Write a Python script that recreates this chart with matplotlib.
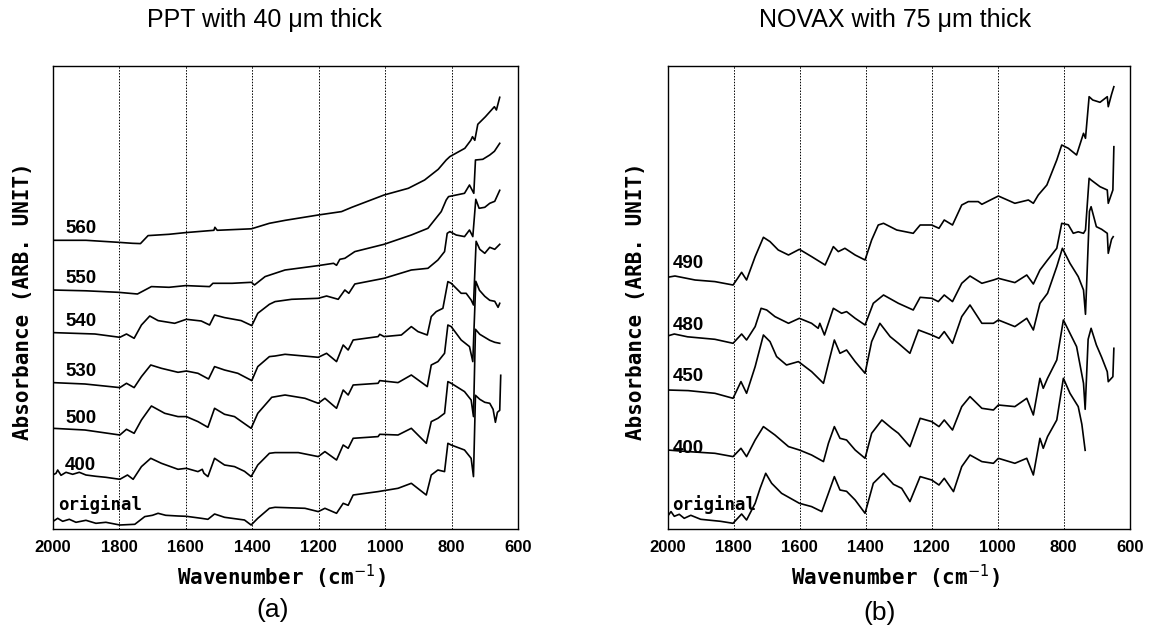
import matplotlib
matplotlib.use("Agg")
import matplotlib.pyplot as plt

# ---- panel (a): PPT 40 um, absorbance (arb. units) vs wavenumber ----
a_labels = ["560", "550", "540", "530", "500", "400", "original"]

a560_wn = [2000, 1900, 1803, 1760, 1736, 1713, 1650, 1600, 1515, 1512, 1505, 1402, 1348, 1300, 1201,
           1131, 1100, 1003, 930, 881, 840, 816, 805, 760, 742, 737, 730, 721, 698, 671, 665, 655]
a560_ab = [289, 289, 287, 286, 285.7, 293.7, 295, 296.7, 299, 302, 299, 300.5, 306, 309, 314.3,
           317.7, 322, 334.3, 341, 349.3, 360, 369.3, 372.7, 381, 389, 392.6, 389, 405, 412.6, 422.6, 419.3, 432]

a550_wn = [2000, 1900, 1803, 1745, 1703, 1650, 1600, 1528, 1518, 1460, 1402, 1393, 1361, 1301, 1201,
           1155, 1146, 1136, 1121, 1091, 1003, 921, 871, 831, 816, 809, 761, 746, 733, 728, 706, 685, 671, 655]
a550_ab = [239.3, 238.5, 237, 235.3, 242.7, 242, 243.7, 242.7, 246, 246, 247, 244.3, 252.7, 259.3, 263.7,
           266, 264, 270, 271, 277.7, 285, 294.3, 301, 317.7, 329.3, 332.7, 336, 344.3, 336, 369.3, 370, 374.3, 378, 386]

a540_wn = [2000, 1873, 1798, 1778, 1755, 1733, 1708, 1683, 1633, 1598, 1553, 1528, 1513, 1483, 1433,
           1401, 1383, 1348, 1331, 1281, 1201, 1176, 1141, 1121, 1109, 1091, 1003, 921, 871, 841,
           821, 813, 805, 786, 761, 746, 736, 727, 717, 700, 685, 670, 655]
a540_ab = [196.7, 195.3, 192, 195.3, 191, 204.3, 213.3, 208.7, 206, 210, 208.3, 204.3, 214.3, 211.7, 208.7,
           203.7, 216, 225, 227.7, 230, 231, 233.3, 230, 239.3, 236, 245.3, 251, 259.3, 261, 269.3,
           277.7, 296, 297.7, 294.3, 292.7, 299.3, 292.7, 330, 321, 322, 326, 328, 339]

a530_wn = [2000, 1903, 1798, 1778, 1755, 1733, 1705, 1673, 1623, 1598, 1563, 1531, 1513, 1483, 1443,
           1401, 1383, 1348, 1331, 1301, 1201, 1176, 1146, 1126, 1111, 1096, 1021, 1016, 1003, 951,
           921, 901, 873, 861, 846, 826, 811, 801, 771, 756, 741, 734, 726, 715, 700, 685, 670, 655]
a530_ab = [146.7, 145.3, 141.7, 146, 141.7, 152.7, 164.3, 161, 157, 158.3, 156, 150.3, 162.7, 159.3, 156,
           148.7, 162.7, 172.7, 173.3, 175, 172, 176, 167.7, 184.3, 179.3, 189.3, 192.7, 195, 192.7, 194.3,
           202.7, 197.7, 194.3, 212.7, 217.7, 221, 247.7, 246, 236, 236, 229.3, 224.3, 288, 280, 276, 282, 280, 285]

a500_wn = [2000, 1903, 1798, 1778, 1755, 1733, 1703, 1663, 1623, 1598, 1563, 1533, 1513, 1483, 1453,
           1433, 1403, 1383, 1348, 1341, 1301, 1241, 1201, 1181, 1146, 1126, 1111, 1096, 1021, 1016,
           961, 921, 873, 861, 841, 821, 811, 801, 771, 746, 736, 727, 716, 700, 685, 670, 660, 655]
a500_ab = [101, 99.3, 94.3, 100, 96, 109.3, 123.3, 116, 112.7, 112.7, 107.7, 102, 121, 115, 112.7,
           108, 101, 116, 129.3, 132, 134.3, 131, 126, 131, 121, 139.3, 134.3, 144.3, 146, 148.7,
           146.7, 154.3, 142.7, 164.3, 167.7, 176, 204.3, 202.7, 189.3, 182.7, 167.7, 248, 239, 233, 229, 228, 222, 226]

a400_wn = [2000, 1990, 1985, 1975, 1960, 1940, 1920, 1900, 1870, 1840, 1798, 1775, 1758, 1733, 1705,
           1673, 1623, 1598, 1563, 1550, 1545, 1533, 1513, 1483, 1453, 1423, 1403, 1383, 1348, 1331,
           1261, 1201, 1181, 1146, 1126, 1111, 1096, 1021, 1016, 961, 921, 876, 861, 841, 821,
           811, 801, 761, 741, 734, 728, 715, 700, 685, 670, 655]
a400_ab = [54.3, 56, 59.3, 54, 57, 55, 57, 54.3, 53, 52, 50, 54.3, 50, 62.7, 71,
           66, 60, 61, 57.7, 60, 56, 52.7, 71, 64.3, 62.7, 58, 52.7, 64.3, 76, 76.7,
           76.7, 72.7, 77.7, 69.3, 84.3, 81, 91, 92.7, 95, 94.3, 101, 86, 107.7, 111, 116,
           147.7, 146, 137.7, 129.3, 112.7, 200, 195, 192, 189, 187, 186]

a0_wn = [2000, 1985, 1970, 1950, 1930, 1900, 1870, 1840, 1798, 1753, 1723, 1700, 1683, 1660, 1623,
         1598, 1553, 1533, 1513, 1483, 1423, 1403, 1383, 1348, 1331, 1241, 1201, 1181, 1146, 1126,
         1111, 1096, 1021, 961, 921, 876, 861, 841, 821, 811, 801, 761, 741, 734, 728, 715,
         700, 685, 675, 668, 662, 655, 652]
a0_ab = [7.7, 11, 8, 10, 7, 9, 6, 7, 4.3, 5, 12.7, 14, 16, 14, 13.3,
         13, 11, 10, 15.3, 12, 9.3, 4.3, 11, 21, 22, 21, 17.7, 21, 16, 26,
         24, 34.3, 37.7, 41, 46, 34.3, 54.3, 59.3, 57.7, 86, 84.3, 79.3, 71, 52.7, 134, 130,
         127, 126, 120, 107, 117, 119, 154]

# ---- panel (b): NOVAX 75 um ----
b_labels = ["490", "480", "450", "400", "original"]

b490_wn = [2001, 1978, 1917, 1857, 1802, 1788, 1776, 1761, 1735, 1710, 1690, 1665, 1634, 1601, 1564,
           1523, 1498, 1483, 1463, 1432, 1402, 1382, 1362, 1346, 1306, 1256, 1235, 1200, 1178, 1162,
           1137, 1109, 1089, 1059, 1048, 998, 948, 907, 892, 877, 851, 821, 806, 786, 761,
           740, 734, 723, 712, 690, 668, 665, 655, 648]
b490_ab = [252, 253.3, 249.3, 247.7, 244.3, 251, 257, 249.3, 272.7, 292, 287.7, 279.3, 274.3, 280, 272.7,
           264.3, 282.7, 277.7, 281, 274.3, 269.3, 289.3, 304.3, 306, 299.3, 296, 304.3, 304.3, 301, 309.3,
           304.3, 324.3, 327.7, 327.7, 325, 333.3, 326, 329.3, 326, 334.3, 344.3, 369.3, 384.3, 381, 374.3,
           396, 391, 432.6, 429.3, 427, 432.6, 422.6, 435, 442.6]

b480_wn = [2001, 1980, 1940, 1857, 1802, 1776, 1761, 1735, 1717, 1700, 1675, 1634, 1601, 1564, 1544,
           1539, 1525, 1498, 1473, 1458, 1432, 1402, 1377, 1346, 1301, 1256, 1235, 1200, 1180, 1162,
           1137, 1109, 1084, 1048, 1013, 998, 948, 912, 892, 872, 849, 821, 806, 786, 771,
           756, 740, 734, 723, 717, 690, 668, 665, 651, 648]
b480_ab = [193.3, 195.3, 192.5, 190, 186, 195.3, 189.3, 202.7, 221, 219.3, 212.7, 206, 211, 206, 201,
           206, 194.3, 221, 216, 217.7, 211, 204.3, 226, 234.3, 226, 219.3, 232, 231, 227.7, 234.3,
           227.7, 246, 253.3, 246, 249.3, 251, 246.7, 254.3, 245.3, 259.3, 269.3, 281, 306, 304.5, 296,
           297.5, 296, 299.3, 351, 349.3, 342.6, 339.3, 326, 339.3, 382.6]

b450_wn = [2001, 1938, 1857, 1802, 1778, 1761, 1735, 1710, 1690, 1670, 1640, 1604, 1564, 1528, 1513,
           1495, 1478, 1458, 1432, 1402, 1382, 1357, 1326, 1301, 1266, 1240, 1200, 1178, 1162, 1137,
           1109, 1084, 1048, 1013, 998, 948, 912, 892, 872, 849, 821, 804, 781, 756, 740,
           734, 722, 717, 701, 685, 668, 665, 655, 650]
b450_ab = [139.3, 138.7, 136, 131, 147.7, 136, 162.7, 194.3, 187.7, 172.7, 164.3, 167.7, 157.7, 146, 166,
           189.3, 176, 179.3, 167.7, 156, 187.7, 206, 192.7, 186, 176, 199.3, 194.3, 191, 197.7, 186,
           212.7, 224.3, 206, 206, 209.3, 202.7, 211, 199.3, 226, 236, 262.7, 281, 266, 252.7, 239.3,
           215, 318, 322.6, 302.6, 300, 296, 276, 290, 292.6]

b400_wn = [2001, 1938, 1857, 1802, 1778, 1761, 1735, 1710, 1675, 1634, 1601, 1564, 1528, 1513, 1495,
           1478, 1458, 1432, 1402, 1382, 1351, 1321, 1301, 1266, 1235, 1200, 1178, 1162, 1137, 1109,
           1084, 1048, 1013, 998, 948, 912, 892, 872, 862, 849, 821, 801, 781, 761, 740,
           735, 726, 717, 701, 685, 668, 665, 651, 648]
b400_ab = [79.3, 77.7, 76, 72.7, 81, 72.7, 89.3, 102.7, 94.3, 82.7, 79.3, 74.3, 67.7, 86, 102.7,
           91, 89.3, 79.3, 71, 96, 109.3, 101, 96, 82.7, 111, 107.7, 102.7, 109.3, 99.3, 122.7,
           132.7, 121, 119.3, 124.3, 122.7, 131, 114.3, 151, 141, 151, 169.3, 209.3, 196, 182.7, 146,
           120, 190, 201, 184.3, 172, 157.6, 147.6, 152.6, 181]

b0_wn = [2001, 1990, 1980, 1965, 1950, 1930, 1900, 1870, 1840, 1802, 1776, 1761, 1735, 1720, 1703,
         1685, 1655, 1601, 1564, 1533, 1513, 1495, 1478, 1458, 1432, 1402, 1377, 1346, 1316, 1291,
         1266, 1235, 1200, 1178, 1162, 1134, 1109, 1084, 1048, 1013, 998, 948, 912, 892, 872,
         862, 849, 821, 801, 781, 756, 745, 735]
b0_ab = [12.7, 17.7, 13, 15, 11, 14, 10, 9, 8, 6, 15.3, 9.3, 26, 41, 56,
         46, 36, 26, 22.7, 17.7, 36, 52.7, 39.3, 38, 29.3, 16, 46, 56, 45, 41,
         27.7, 52.7, 49.3, 44.3, 51, 37.7, 62.7, 74.3, 67.7, 66, 71, 66, 71, 54.3, 91,
         81, 92.7, 109.3, 151, 136, 122.7, 105, 79]

# label anchor points (wavenumber, absorbance)
a_lab_wn = [1963, 1963, 1963, 1963, 1963, 1963, 1985]
a_lab_ab = [301, 251, 207.7, 157.7, 111, 64.3, 24.3]
b_lab_wn = [1984, 1984, 1984, 1984, 1986]
b_lab_ab = [266, 204.3, 152.7, 81, 24.3]

ticks = [2000, 1800, 1600, 1400, 1200, 1000, 800, 600]
grid_wn = [1800, 1600, 1400, 1200, 1000, 800]

SANS = "Liberation Sans"
MONO = "DejaVu Sans Mono"

fig = plt.figure(figsize=(11.54, 6.34), dpi=100)
ax_a = fig.add_axes([0.04567, 0.16514, 0.40321, 0.73123])
ax_b = fig.add_axes([0.5786, 0.16514, 0.40035, 0.73123])

a_curves = [(a560_wn, a560_ab), (a550_wn, a550_ab), (a540_wn, a540_ab), (a530_wn, a530_ab),
            (a500_wn, a500_ab), (a400_wn, a400_ab), (a0_wn, a0_ab)]
b_curves = [(b490_wn, b490_ab), (b480_wn, b480_ab), (b450_wn, b450_ab),
            (b400_wn, b400_ab), (b0_wn, b0_ab)]

for ax, curves, labels, lx, ly in [(ax_a, a_curves, a_labels, a_lab_wn, a_lab_ab),
                                   (ax_b, b_curves, b_labels, b_lab_wn, b_lab_ab)]:
    for wn, ab in curves:
        ax.plot(wn, ab, color="black", lw=1.2)
    for lab, x, y in zip(labels, lx, ly):
        if lab == "original":
            ax.text(x, y, lab, family=MONO, fontweight="bold", fontsize=12.5, va="center", ha="left")
        else:
            ax.text(x, y, lab, family=SANS, fontweight="bold", fontsize=13.5, va="center", ha="left")
    for g in grid_wn:
        ax.axvline(g, color="black", ls=(0, (1.5, 1.5)), lw=0.7)
    ax.set_xlim(2000, 600)
    ax.set_ylim(0, 463.6)
    ax.set_xticks(ticks)
    ax.set_xticklabels([str(t) for t in ticks], family=SANS, fontweight="bold", fontsize=12)
    ax.tick_params(axis="x", length=0, pad=8)
    ax.set_yticks([])
    for s in ax.spines.values():
        s.set_linewidth(1.0)

fig.text(264 / 1154, 1 - 20 / 634, "PPT with 40 \u03bcm thick", family=SANS, fontsize=18, ha="center", va="center")
fig.text(895 / 1154, 1 - 20 / 634, "NOVAX with 75 \u03bcm thick", family=SANS, fontsize=18, ha="center", va="center")

for xc in [281.5, 895]:
    fig.text(xc / 1154, 1 - 577 / 634, "Wavenumber (cm$^{-1}$)", family=MONO, fontweight="bold",
             fontsize=15, ha="center", va="center")
for xc in [23, 636]:
    fig.text(xc / 1154, 1 - 301 / 634, "Absorbance (ARB. UNIT)", family=MONO, fontweight="bold",
             fontsize=15, ha="center", va="center", rotation=90)

fig.text(273 / 1154, 1 - 610 / 634, "(a)", family=SANS, fontsize=19, ha="center", va="center")
fig.text(880 / 1154, 1 - 613 / 634, "(b)", family=SANS, fontsize=19, ha="center", va="center")

fig.savefig("out.png", dpi=100)
